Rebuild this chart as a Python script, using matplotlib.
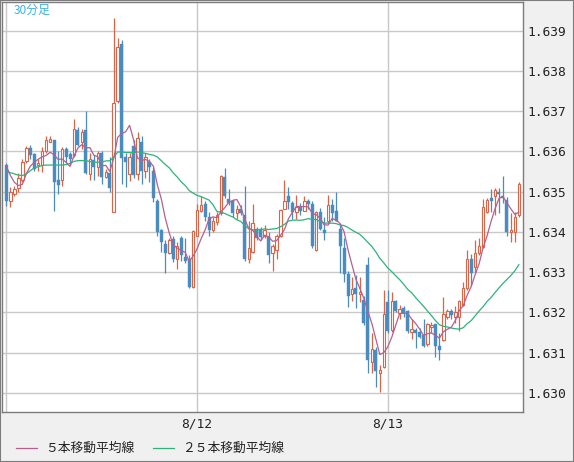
import matplotlib
matplotlib.use('Agg')
import matplotlib.pyplot as plt
from matplotlib.lines import Line2D
from matplotlib.patches import Rectangle
import numpy as np
import pandas as pd

# 30分足 OHLC (8/11 00:00 から)
opens = [1.63565, 1.63476, 1.63493, 1.63508, 1.63530, 1.63575, 1.63609, 1.63593, 1.63565, 1.63567,
         1.63602, 1.63624, 1.63629, 1.63528, 1.63530, 1.63605, 1.63593, 1.63590, 1.63653, 1.63624,
         1.63652, 1.63545, 1.63578, 1.63561, 1.63597, 1.63536, 1.63547, 1.63449, 1.63725, 1.63866,
         1.63585, 1.63545, 1.63614, 1.63545, 1.63622, 1.63552, 1.63573, 1.63552, 1.63478, 1.63404,
         1.63371, 1.63348, 1.63383, 1.63332, 1.63384, 1.63338, 1.63333, 1.63264, 1.63391, 1.63453,
         1.63469, 1.63438, 1.63404, 1.63425, 1.63446, 1.63536, 1.63482, 1.63478, 1.63446, 1.63456,
         1.63441, 1.63334, 1.63349, 1.63407, 1.63407, 1.63390, 1.63388, 1.63347, 1.63354, 1.63391,
         1.63457, 1.63488, 1.63472, 1.63449, 1.63462, 1.63453, 1.63478, 1.63469, 1.63354, 1.63449,
         1.63405, 1.63426, 1.63467, 1.63453, 1.63407, 1.63359, 1.63295, 1.63247, 1.63260, 1.63245,
         1.63230, 1.63319, 1.63077, 1.63107, 1.63050, 1.63065, 1.63225, 1.63156, 1.63228, 1.63198,
         1.63210, 1.63203, 1.63152, 1.63156, 1.63152, 1.63143, 1.63121, 1.63163, 1.63171, 1.63118,
         1.63131, 1.63190, 1.63203, 1.63188, 1.63189, 1.63218, 1.63260, 1.63332, 1.63312, 1.63347,
         1.63363, 1.63449, 1.63483, 1.63490, 1.63499, 1.63490, 1.63480, 1.63400, 1.63400, 1.63441]
highs = [1.63571, 1.63512, 1.63515, 1.63547, 1.63580, 1.63614, 1.63616, 1.63596, 1.63582, 1.63612,
         1.63639, 1.63638, 1.63629, 1.63600, 1.63611, 1.63612, 1.63598, 1.63680, 1.63660, 1.63655,
         1.63701, 1.63595, 1.63592, 1.63601, 1.63600, 1.63557, 1.63585, 1.63931, 1.63881, 1.63876,
         1.63597, 1.63596, 1.63629, 1.63649, 1.63639, 1.63597, 1.63581, 1.63560, 1.63482, 1.63407,
         1.63379, 1.63386, 1.63391, 1.63375, 1.63391, 1.63384, 1.63342, 1.63405, 1.63469, 1.63488,
         1.63478, 1.63449, 1.63438, 1.63449, 1.63542, 1.63559, 1.63507, 1.63482, 1.63468, 1.63466,
         1.63515, 1.63428, 1.63469, 1.63412, 1.63412, 1.63416, 1.63400, 1.63371, 1.63395, 1.63457,
         1.63528, 1.63512, 1.63476, 1.63492, 1.63472, 1.63490, 1.63482, 1.63476, 1.63451, 1.63459,
         1.63437, 1.63492, 1.63482, 1.63499, 1.63416, 1.63384, 1.63304, 1.63288, 1.63292, 1.63288,
         1.63242, 1.63339, 1.63148, 1.63115, 1.63069, 1.63255, 1.63257, 1.63250, 1.63232, 1.63218,
         1.63215, 1.63205, 1.63185, 1.63162, 1.63162, 1.63184, 1.63175, 1.63177, 1.63172, 1.63148,
         1.63239, 1.63209, 1.63208, 1.63215, 1.63232, 1.63275, 1.63354, 1.63344, 1.63379, 1.63386,
         1.63482, 1.63483, 1.63507, 1.63510, 1.63508, 1.63540, 1.63487, 1.63446, 1.63449, 1.63524]
lows = [1.63464, 1.63463, 1.63488, 1.63499, 1.63525, 1.63572, 1.63582, 1.63552, 1.63552, 1.63550,
        1.63595, 1.63622, 1.63453, 1.63493, 1.63513, 1.63570, 1.63565, 1.63586, 1.63613, 1.63607,
        1.63544, 1.63528, 1.63528, 1.63540, 1.63518, 1.63533, 1.63498, 1.63449, 1.63719, 1.63520,
        1.63512, 1.63526, 1.63533, 1.63528, 1.63520, 1.63535, 1.63525, 1.63474, 1.63389, 1.63350,
        1.63297, 1.63345, 1.63325, 1.63309, 1.63329, 1.63324, 1.63260, 1.63262, 1.63391, 1.63449,
        1.63428, 1.63389, 1.63400, 1.63416, 1.63441, 1.63485, 1.63466, 1.63437, 1.63433, 1.63443,
        1.63329, 1.63322, 1.63348, 1.63379, 1.63379, 1.63385, 1.63324, 1.63302, 1.63334, 1.63388,
        1.63456, 1.63458, 1.63433, 1.63433, 1.63441, 1.63451, 1.63458, 1.63360, 1.63352, 1.63406,
        1.63379, 1.63423, 1.63426, 1.63428, 1.63297, 1.63275, 1.63214, 1.63228, 1.63210, 1.63226,
        1.63168, 1.63051, 1.63049, 1.63015, 1.63003, 1.63061, 1.63148, 1.63151, 1.63200, 1.63183,
        1.63188, 1.63148, 1.63133, 1.63112, 1.63136, 1.63115, 1.63118, 1.63148, 1.63089, 1.63081,
        1.63130, 1.63185, 1.63185, 1.63175, 1.63153, 1.63215, 1.63257, 1.63267, 1.63299, 1.63342,
        1.63359, 1.63447, 1.63449, 1.63443, 1.63446, 1.63473, 1.63391, 1.63375, 1.63375, 1.63437]
closes = [1.63476, 1.63499, 1.63507, 1.63535, 1.63573, 1.63609, 1.63592, 1.63557, 1.63572, 1.63602,
          1.63627, 1.63631, 1.63525, 1.63516, 1.63606, 1.63586, 1.63580, 1.63655, 1.63616, 1.63647,
          1.63546, 1.63582, 1.63562, 1.63596, 1.63536, 1.63550, 1.63508, 1.63720, 1.63860, 1.63583,
          1.63573, 1.63587, 1.63542, 1.63632, 1.63552, 1.63587, 1.63561, 1.63483, 1.63400, 1.63375,
          1.63348, 1.63379, 1.63334, 1.63364, 1.63342, 1.63329, 1.63264, 1.63402, 1.63454, 1.63466,
          1.63437, 1.63404, 1.63426, 1.63443, 1.63540, 1.63490, 1.63471, 1.63446, 1.63456, 1.63448,
          1.63334, 1.63359, 1.63423, 1.63384, 1.63388, 1.63404, 1.63342, 1.63366, 1.63391, 1.63454,
          1.63478, 1.63474, 1.63449, 1.63462, 1.63452, 1.63478, 1.63469, 1.63366, 1.63449, 1.63407,
          1.63397, 1.63467, 1.63447, 1.63428, 1.63366, 1.63295, 1.63242, 1.63259, 1.63247, 1.63252,
          1.63173, 1.63081, 1.63110, 1.63056, 1.63058, 1.63197, 1.63153, 1.63228, 1.63203, 1.63208,
          1.63198, 1.63153, 1.63158, 1.63148, 1.63140, 1.63118, 1.63172, 1.63168, 1.63118, 1.63106,
          1.63197, 1.63203, 1.63193, 1.63200, 1.63229, 1.63260, 1.63334, 1.63299, 1.63347, 1.63364,
          1.63461, 1.63479, 1.63478, 1.63504, 1.63493, 1.63485, 1.63400, 1.63404, 1.63436, 1.63519]

# 表示開始前のデータを含む移動平均の先頭部分（チャートから読み取り）
ma5_head = [1.63562, 1.63540, 1.63523, 1.63515]
ma25_head = [1.63550, 1.63547, 1.63544, 1.63541, 1.63540, 1.63544, 1.63552, 1.63559, 1.63562, 1.63565,
             1.63566, 1.63566, 1.63566, 1.63566, 1.63566, 1.63567, 1.63570, 1.63575, 1.63577, 1.63577,
             1.63577, 1.63575, 1.63573, 1.63573]

date_pos = [0, 48, 96]
date_labels = ['', '8/12', '8/13']
price_ticks = [1.630, 1.631, 1.632, 1.633, 1.634, 1.635, 1.636, 1.637, 1.638, 1.639]

df = pd.DataFrame({'open': opens, 'high': highs, 'low': lows, 'close': closes})
df['ma5'] = df['close'].rolling(5).mean()
df['ma25'] = df['close'].rolling(25).mean()
df.loc[:3, 'ma5'] = ma5_head
df.loc[:23, 'ma25'] = ma25_head

UP = '#dc6446'
DOWN = '#4a8cc0'
W, H = 574, 462

fig = plt.figure(figsize=(W / 100, H / 100), dpi=100)
fig.patch.set_facecolor('#f0f0f0')
ax = fig.add_axes([1.5 / W, 50 / H, 521.5 / W, 410.5 / H])
ax.set_facecolor('white')

x = np.arange(len(df))
up = df['close'] >= df['open']
ax.vlines(x, df['low'], df['high'], colors=np.where(up, UP, DOWN), linewidth=0.9, zorder=2)
body_low = np.minimum(df['open'], df['close'])
body_h = np.maximum((df['close'] - df['open']).abs(), 0.000012)
ax.bar(x[up], body_h[up], bottom=body_low[up], width=0.62, facecolor='white',
       edgecolor=UP, linewidth=0.8, zorder=3)
ax.bar(x[~up], body_h[~up], bottom=body_low[~up], width=0.75, facecolor=DOWN,
       edgecolor=DOWN, linewidth=0.3, zorder=3)

ax.plot(x, df['ma25'], color='#2db37a', linewidth=0.9, zorder=4)
ax.plot(x, df['ma5'], color='#b5608f', linewidth=0.9, zorder=5)

ax.set_xlim(-1.25, 130.05)
ax.set_ylim(1.62953, 1.63972)
ax.set_yticks(price_ticks)
ax.set_yticklabels([f'{v:.3f}' for v in price_ticks])
ax.set_xticks(date_pos)
ax.set_xticklabels(date_labels)
ax.yaxis.tick_right()
ax.tick_params(axis='y', length=0, pad=3, labelsize=9.3, labelcolor='#222222')
ax.tick_params(axis='x', length=0, pad=4, labelsize=9.3, labelcolor='#222222')
for lab in ax.get_xticklabels() + ax.get_yticklabels():
    lab.set_fontfamily('DejaVu Sans Mono')
ax.grid(True, color='#c8c8c8', linewidth=1.0, zorder=0)
ax.set_axisbelow(True)
for s in ax.spines.values():
    s.set_color('#7c7c7c')
    s.set_linewidth(1.0)

# 左上の足種表示
fig.text(14 / W, 1 - 10 / H, '30分足', color='#3fb0e8', fontsize=8.6,
         family=['Noto Sans CJK JP', 'DejaVu Sans'], va='center', ha='left')

# 凡例
for x0, col, label in [(16, '#b5608f', '５本移動平均線'), (153, '#2db37a', '２５本移動平均線')]:
    fig.add_artist(Line2D([x0 / W, (x0 + 21) / W], [1 - 448 / H, 1 - 448 / H],
                          color=col, linewidth=0.9, transform=fig.transFigure))
    fig.text((x0 + 29) / W, 1 - 448 / H, label, fontsize=9.2, color='#222222',
             family=['Noto Sans CJK JP', 'DejaVu Sans'], va='center', ha='left')

fig.add_artist(Rectangle((0, 0), 1, 1, transform=fig.transFigure, fill=False,
                         edgecolor='#7c7c7c', linewidth=1.5))

fig.savefig('out.png', dpi=100, facecolor=fig.get_facecolor())
